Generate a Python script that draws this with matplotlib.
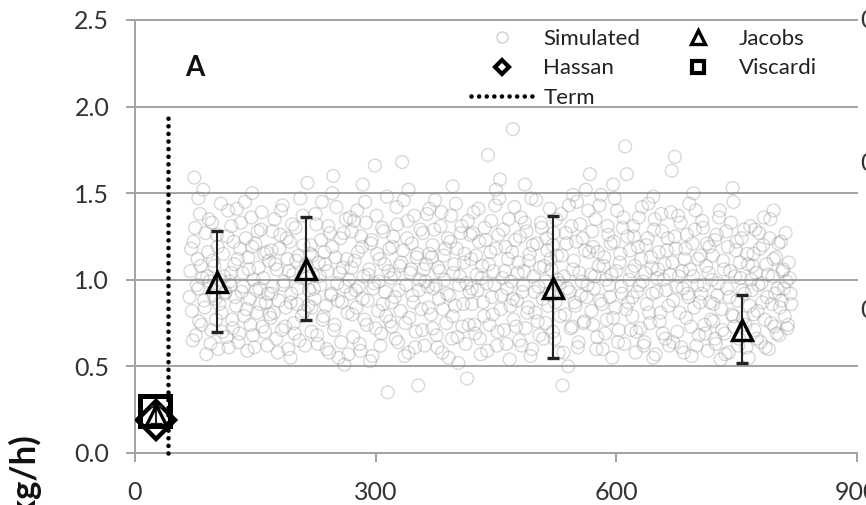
import matplotlib
matplotlib.use("Agg")
import matplotlib.pyplot as plt
from matplotlib.lines import Line2D

plt.rcParams['font.family'] = ['Lato', 'DejaVu Sans']

# ---------------- data ----------------
x1 = [69,71,73,74,76,78,79,81,83,84,86,88,89,91,93,94,96,98,99,101,103,105,107,109,111,113,115,117]
y1 = [1.05,0.82,1.22,1.59,0.68,1.12,0.95,1.38,0.74,1.01,0.88,1.27,0.57,1.16,0.99,0.63,1.33,0.91,1.08,0.77,1.19,0.86,1.44,0.70,1.02,0.93,1.25,0.61]
x2 = [119,120,122,124,126,127,129,131,133,134,136,138,140,141,143,145,147,148,150,152,154,155,157,159,161,163,165,167]
y2 = [0.97,1.31,0.72,1.09,0.85,1.41,0.64,1.18,0.93,1.04,0.79,1.24,0.59,1.13,0.89,1.36,0.68,1.00,1.21,0.81,1.07,0.95,1.29,0.73,1.15,0.87,0.62,1.11]
x3 = [169,170,172,174,176,177,179,181,183,184,186,188,190,191,193,195,197,198,200,202,204,205,207,209,211,213,215,217]
y3 = [0.78,1.17,0.96,1.35,0.66,1.06,0.88,1.26,0.71,1.43,0.99,0.84,1.12,0.60,1.22,0.92,1.03,0.75,1.30,0.86,1.14,0.65,1.01,1.37,0.82,1.09,1.56,0.94]
x4 = [219,220,222,224,226,228,229,231,233,235,236,238,240,242,243,245,247,249,250,252,254,256,258,259,261,263,265,267]
y4 = [1.20,0.70,1.03,0.89,1.32,0.63,1.10,0.97,1.45,0.79,1.16,0.85,1.05,0.58,1.27,0.92,1.60,0.74,1.13,0.98,0.55,1.24,0.87,1.07,0.51,1.35,0.81,1.00]
x5 = [269,270,272,274,276,277,279,281,283,285,286,288,290,292,293,295,297,299,300,302,304,306,308,309,311,313,315,317]
y5 = [0.92,1.28,0.67,1.11,0.84,1.40,0.96,0.59,1.19,1.02,0.77,1.33,0.88,1.06,0.53,1.23,0.95,1.66,0.72,1.15,0.99,0.62,1.30,0.86,1.09,0.79,0.35,1.18]
x6 = [319,320,322,324,326,328,330,331,333,334,336,338,340,342,343,345,347,349,351,353,354,356,358,360,362,364,366,367]
y6 = [1.01,0.73,1.25,0.90,1.42,0.64,1.08,0.82,1.68,1.17,0.56,0.97,1.34,0.78,1.04,1.21,0.87,0.61,1.13,0.39,0.94,1.29,0.71,1.06,0.99,1.38,0.84,1.15]
x7 = [369,371,372,374,376,378,379,381,383,385,386,388,390,392,394,395,397,399,401,403,404,406,408,410,412,414,415,417]
y7 = [0.80,1.20,0.95,1.46,0.68,1.07,0.89,1.31,0.58,1.14,1.00,0.75,1.24,0.91,1.37,0.66,1.04,0.85,1.18,0.52,0.97,1.27,0.73,1.10,0.63,0.43,1.34,0.93]
x8 = [419,420,422,424,426,427,429,431,433,435,436,438,440,442,443,445,447,449,451,453,455,456,458,460,462,464,466,467]
y8 = [1.12,0.86,1.39,0.69,1.03,0.94,1.22,0.57,1.08,0.79,1.30,0.98,1.72,0.74,1.16,0.90,1.05,1.43,0.62,1.26,1.58,0.83,1.01,0.71,1.19,0.95,1.35,0.54]
x9 = [469,471,472,474,476,478,479,481,483,485,487,488,490,492,494,495,497,499,501,503,504,506,508,510,512,514,516,517]
y9 = [0.99,1.87,0.77,1.23,0.88,1.10,0.65,1.36,0.93,1.05,0.72,1.28,0.84,1.15,1.47,0.60,1.02,0.81,1.21,0.96,0.68,1.33,0.89,1.08,0.75,1.17,0.92,1.41]
x10 = [519,521,522,524,526,528,529,531,533,535,536,538,540,542,544,545,547,549,551,553,554,556,558,560,562,564,566,567]
y10 = [1.06,0.70,1.27,0.87,1.14,0.58,0.98,1.38,0.39,1.02,0.80,1.21,0.50,0.93,1.31,0.73,1.11,0.85,1.45,0.64,1.04,0.91,1.24,0.76,1.52,0.97,1.16,1.61]
x11 = [569,571,572,574,576,578,580,581,583,585,587,588,590,592,594,595,597,599,601,603,604,606,608,610,611,613,615,617]
y11 = [0.82,1.19,0.95,1.35,0.67,1.08,0.88,1.49,0.60,1.13,1.00,0.77,1.26,0.90,1.03,0.55,1.22,0.84,1.40,0.71,1.10,0.96,1.30,0.63,1.77,1.61,0.87,1.17]
x12 = [619,620,622,624,626,628,630,631,633,635,637,638,640,642,644,645,647,649,651,653,655,656,658,660,662,664,666,667]
y12 = [1.05,0.79,1.25,0.58,0.93,1.36,0.72,1.12,0.99,0.64,1.20,0.86,1.44,0.75,1.07,0.92,1.29,0.57,1.01,1.16,0.81,1.38,0.69,1.09,0.94,1.24,0.62,1.03]
x13 = [669,671,673,674,676,678,680,681,683,685,687,688,690,692,694,695,697,699,701,703,705,706,708,710,712,714,716,717]
y13 = [1.63,0.88,1.71,1.18,0.70,1.02,1.33,0.61,0.95,1.12,0.78,1.26,0.90,1.06,0.56,1.21,0.84,1.40,0.97,0.68,1.14,0.92,1.30,0.74,1.08,0.59,1.19,0.87]
x14 = [719,721,723,724,726,728,730,731,733,735,737,738,740,742,744,745,747,749,751,753,755,756,758,760,762,764,766,767]
y14 = [1.00,0.76,1.23,0.63,0.91,1.36,0.54,0.83,1.11,0.69,1.28,0.95,0.58,1.05,0.80,1.53,0.73,1.17,0.88,0.66,1.01,1.24,0.78,0.92,0.61,1.09,0.85,1.31]
x15 = [769,771,772,774,776,778,780,781,783,785,787,788,790,792,794,795,797,799,801,803,805,806,808,810,812,814,815,817]
y15 = [0.94,1.15,0.71,1.04,0.82,1.27,0.64,0.98,1.20,0.77,1.09,0.90,0.60,1.35,0.86,1.02,0.73,1.13,0.95,0.68,1.22,0.88,1.06,0.79,0.99,0.74,1.10,0.92]

u1 = [68,70,72,75,77,80,82,85,87,90,92,95,97,100,102,104,106,108,110,112,114,116,118,79]
v1 = [0.90,1.18,0.65,1.30,0.97,0.76,1.08,1.52,0.84,1.02,1.35,0.71,1.11,0.89,1.26,0.60,1.00,0.81,1.15,0.92,0.67,1.40,0.99,1.47]
u2 = [120,121,123,125,128,130,132,135,137,139,142,144,146,149,151,153,156,158,160,162,164,166,168,146]
v2 = [1.04,0.77,1.22,0.90,1.12,0.69,1.33,0.96,1.45,0.83,1.06,0.74,1.19,0.61,0.94,1.28,0.86,1.39,1.01,0.70,1.16,0.92,0.80,1.50]
u3 = [170,171,173,175,178,180,182,185,187,189,192,194,196,199,201,203,206,208,210,212,214,216,218,194]
v3 = [0.92,1.28,0.81,1.09,0.58,1.18,1.40,0.97,0.73,1.24,1.05,0.87,1.32,0.69,1.11,0.95,1.47,0.79,1.20,0.62,1.01,0.85,1.15,0.55]
u4 = [220,221,223,225,227,230,232,234,237,239,241,244,246,248,251,253,255,257,260,262,264,266,268,246]
v4 = [0.84,1.14,0.95,1.38,0.68,1.02,1.23,0.77,1.09,0.60,1.31,0.91,1.19,0.71,1.42,0.88,1.04,0.64,1.27,0.96,1.12,0.57,1.36,1.50]
u5 = [270,271,273,275,278,280,282,284,287,289,291,294,296,298,301,303,305,307,310,312,314,316,318,284]
v5 = [1.07,0.80,1.34,0.94,1.16,0.63,1.25,0.89,1.45,0.74,1.03,1.21,0.56,0.98,1.37,0.82,1.12,0.69,1.28,0.93,1.48,1.05,0.76,1.55]
u6 = [320,321,323,325,327,329,332,335,337,339,341,344,346,348,350,352,355,357,359,361,363,365,367,341]
v6 = [0.87,1.19,1.03,0.66,1.32,0.94,1.10,1.46,0.75,1.24,0.58,1.06,0.91,1.37,0.70,1.15,1.00,0.83,1.27,0.62,1.09,0.96,1.41,1.52]
u7 = [370,371,373,375,377,380,382,384,387,389,391,393,396,398,400,402,405,407,409,411,413,416,418,396]
v7 = [1.13,0.72,1.29,0.97,0.61,1.05,1.39,0.83,1.18,0.92,0.55,1.22,0.79,1.09,1.44,0.67,1.02,1.31,0.86,1.15,0.98,0.74,1.26,1.54]
u8 = [420,421,423,425,428,430,432,434,437,439,441,444,446,448,450,452,454,457,459,461,463,465,468,450]
v8 = [0.95,1.27,0.74,1.14,1.41,0.66,1.01,0.87,1.23,0.59,1.09,1.34,0.80,0.97,1.18,0.70,1.47,0.91,1.29,1.05,0.63,1.12,0.85,1.52]
u9 = [470,471,473,475,477,480,482,484,486,489,491,493,496,498,500,502,505,507,509,511,513,515,518,486]
v9 = [1.16,0.89,1.42,0.73,1.04,1.25,0.62,0.97,1.33,0.81,1.11,0.56,1.20,0.93,1.46,0.76,1.07,1.30,0.66,0.99,1.24,0.85,1.12,1.55]
u10 = [520,521,523,525,527,530,532,534,537,539,541,543,546,548,550,552,555,557,559,561,563,565,568,546]
v10 = [0.91,1.20,0.66,1.35,1.00,0.79,1.14,0.58,1.27,0.95,1.43,0.72,1.06,0.87,1.22,0.61,1.32,0.99,0.75,1.17,0.90,1.40,1.03,1.49]
u11 = [570,571,573,575,577,579,582,584,586,589,591,593,596,598,600,602,605,607,609,612,614,616,618,596]
v11 = [1.28,0.74,1.02,0.60,1.16,1.43,0.86,1.08,0.69,1.31,0.97,1.21,0.78,1.47,1.05,0.64,1.15,0.92,1.36,0.83,1.25,1.00,0.71,1.55]
u12 = [620,621,623,625,627,629,632,634,636,639,641,643,646,648,650,652,654,657,659,661,663,665,668,646]
v12 = [0.90,1.31,1.08,0.70,1.19,0.97,1.42,0.62,1.04,1.24,0.81,1.13,0.55,1.35,0.93,1.06,0.76,1.28,1.00,0.66,1.17,0.85,1.39,1.48]
u13 = [670,671,673,675,677,679,682,684,686,689,691,693,696,698,700,702,704,707,709,711,713,715,718,696]
v13 = [1.10,0.64,1.25,0.96,1.37,0.81,1.05,0.58,1.18,0.92,1.44,0.73,1.02,1.29,0.62,1.12,0.87,1.34,0.97,0.69,1.21,1.04,0.77,1.50]
u14 = [720,721,723,725,727,729,732,734,736,739,741,743,746,748,750,752,754,757,759,761,763,765,768,746]
v14 = [1.14,0.86,0.66,1.26,0.98,1.40,0.71,1.06,0.57,1.19,0.90,1.33,0.79,1.02,1.22,0.62,1.10,0.94,1.29,0.74,1.15,0.55,1.00,1.45]
u15 = [770,771,773,775,777,779,782,784,786,789,791,793,796,798,800,802,804,807,809,811,813,816,818,796]
v15 = [1.08,0.80,1.29,0.66,0.97,1.18,0.87,1.36,0.61,1.03,1.24,0.75,1.12,0.92,0.69,1.21,0.84,1.05,0.95,1.27,0.72,1.01,0.86,1.40]

sim_x = (x1 + x2 + x3 + x4 + x5 + x6 + x7 + x8 + x9 + x10 + x11 + x12 + x13 + x14 + x15
         + u1 + u2 + u3 + u4 + u5 + u6 + u7 + u8 + u9 + u10 + u11 + u12 + u13 + u14 + u15)
sim_y = (y1 + y2 + y3 + y4 + y5 + y6 + y7 + y8 + y9 + y10 + y11 + y12 + y13 + y14 + y15
         + v1 + v2 + v3 + v4 + v5 + v6 + v7 + v8 + v9 + v10 + v11 + v12 + v13 + v14 + v15)

jacobs_x = [26, 102, 213, 521, 757]
jacobs_y = [0.22, 0.99, 1.06, 0.95, 0.71]
jacobs_lo = [0.17, 0.70, 0.77, 0.55, 0.52]
jacobs_hi = [0.27, 1.28, 1.36, 1.37, 0.91]

hassan_x = [26]
hassan_y = [0.19]
viscardi_x = [25]
viscardi_y = [0.24]

term_x = [41, 41]
term_y = [0.0, 1.96]

y_ticks = [0.0, 0.5, 1.0, 1.5, 2.0, 2.5]
x_ticks = [0, 300, 600, 900]

# ---------------- figure ----------------
W, H = 866, 505
fig = plt.figure(figsize=(W / 100, H / 100), dpi=100)
ax = fig.add_axes([135 / W, 1 - 453 / H, (857 - 135) / W, (453 - 20) / H])
ax.set_xlim(0, 900)
ax.set_ylim(0, 2.5)

grid_c = '#a3a3a3'
for yv in y_ticks:
    ax.axhline(yv, color=grid_c, lw=1.4, zorder=1, clip_on=False)

ax.spines['top'].set_visible(False)
ax.spines['right'].set_visible(False)
ax.spines['bottom'].set_color(grid_c)
ax.spines['left'].set_color(grid_c)
ax.spines['bottom'].set_linewidth(1.4)
ax.spines['left'].set_linewidth(1.4)

ax.set_yticks(y_ticks)
ax.set_yticklabels([f"{v:.1f}" for v in y_ticks])
ax.set_xticks(x_ticks)
ax.set_xticklabels([str(v) for v in x_ticks])
ax.tick_params(axis='y', length=6.5, width=1.4, color=grid_c, pad=12,
               labelsize=18, labelcolor='#333333')
ax.tick_params(axis='x', length=6.5, width=1.4, color=grid_c, pad=14,
               labelsize=18, labelcolor='#333333')

# simulated cloud
ax.scatter(sim_x, sim_y, s=85, facecolors='none', edgecolors='#8a8a8a',
           linewidths=1.0, alpha=0.33, zorder=2)

# term line
ax.plot(term_x, term_y, color='black', lw=3.3, linestyle=(0, (0.01, 1.65)),
        dash_capstyle='round', zorder=3, clip_on=False)

# Jacobs with error bars
yerr = [[y - lo for y, lo in zip(jacobs_y, jacobs_lo)],
        [hi - y for y, hi in zip(jacobs_y, jacobs_hi)]]
ax.errorbar(jacobs_x, jacobs_y, yerr=yerr, fmt='^', ms=14, mfc='none',
            mec='black', mew=2.4, ecolor='#222222', elinewidth=1.5,
            capsize=4.5, capthick=1.5, zorder=6)

# Hassan, Viscardi
ax.plot(hassan_x, hassan_y, linestyle='none', marker='D', ms=19, mfc='none',
        mec='black', mew=3.2, zorder=5)
ax.plot(viscardi_x, viscardi_y, linestyle='none', marker='s', ms=21, mfc='none',
        mec='black', mew=3.6, zorder=5)

# panel letter
ax.text(75, 2.225, 'A', fontsize=20, fontweight='bold', ha='center', va='center',
        color='#111111')

# legend
h_sim = Line2D([], [], linestyle='none', marker='o', ms=8, mfc='none',
               mec='#cfcfcf', mew=1.0)
h_has = Line2D([], [], linestyle='none', marker='D', ms=7, mfc='none',
               mec='black', mew=3.0)
h_term = Line2D([], [], color='black', lw=3.3, linestyle=(0, (0.01, 1.65)),
                dash_capstyle='round')
h_jac = Line2D([], [], linestyle='none', marker='^', ms=10, mfc='none',
               mec='black', mew=2.4)
h_vis = Line2D([], [], linestyle='none', marker='s', ms=9, mfc='none',
               mec='black', mew=3.0)
leg = fig.legend([h_sim, h_has, h_term, h_jac, h_vis],
                 ['Simulated', 'Hassan', 'Term', 'Jacobs', 'Viscardi'],
                 ncol=2, loc='upper left', bbox_to_anchor=(471 / W, 1 - 29 / H),
                 frameon=False, fontsize=16, handlelength=2.8,
                 handletextpad=0.45, columnspacing=1.2, labelspacing=0.42,
                 borderaxespad=0, borderpad=0)
for t in leg.get_texts():
    t.set_color('#222222')

# y-axis title (cropped by the figure edge)
fig.text(24 / W, 1 - 433 / H, '(kg/h)', rotation=90, ha='center', va='top',
         fontsize=25, fontweight='bold', color='#111111')

# tick labels of the neighbouring panel, cut by the right edge
for py in [21, 163, 310]:
    fig.text(860 / W, 1 - py / H, '0', ha='left', va='center',
             fontsize=18, color='#333333')

fig.savefig('out.png', dpi=100)
